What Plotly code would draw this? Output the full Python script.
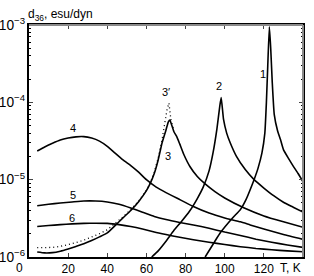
import math
import plotly.graph_objects as go

# ---- data ----
T1 = [90, 95, 98, 104, 108, 111, 113, 115, 117, 119, 120.5, 121.3, 122.0, 122.8,
      123.5, 124.3, 125.3, 127, 128.5, 130, 132.5, 135, 137.5, 140]
d1 = [1.0e-6, 1.6e-6, 2.1e-6, 3.2e-6, 4.1e-6, 5.6e-6, 7.4e-6, 1.0e-5, 1.4e-5, 2.2e-5, 4.0e-5, 1.0e-4, 3.0e-4, 9.5e-4,
      5.0e-4, 1.8e-4, 7.0e-5, 4.3e-5, 3.3e-5, 2.45e-5, 1.9e-5, 1.5e-5, 1.2e-5, 9.4e-6]

T2 = [62.7, 66, 70, 74, 78, 82, 86, 89, 92, 94, 96, 97.5, 98.2,
      99.4, 101, 102.8, 106, 110.5, 115, 120, 125, 130, 135, 140]
d2 = [1.0e-6, 1.2e-6, 1.6e-6, 2.2e-6, 2.9e-6, 3.9e-6, 5.7e-6, 8.0e-6, 1.3e-5, 2.2e-5, 4.5e-5, 9.0e-5, 1.15e-4,
      6.0e-5, 4.0e-5, 3.0e-5, 2.0e-5, 1.35e-5, 1.0e-5, 7.8e-6, 6.2e-6, 5.1e-6, 4.4e-6, 3.8e-6]

T3 = [4.2, 8, 12, 16, 20, 24, 28, 32, 36, 40, 44, 48, 52, 56, 60, 62, 64, 66, 68, 70, 71.2, 72,
      73, 74, 75.5, 77, 79, 82.3, 86, 90, 95, 100, 110, 120, 130, 140]
d3 = [1.16e-6, 1.13e-6, 1.14e-6, 1.19e-6, 1.27e-6, 1.37e-6, 1.48e-6, 1.63e-6, 1.82e-6, 2.05e-6, 2.55e-6,
      3.2e-6, 4.0e-6, 5.2e-6, 7.2e-6, 9.0e-6, 1.2e-5, 1.8e-5, 3.0e-5, 4.4e-5, 5.6e-5, 5.9e-5,
      5.0e-5, 4.2e-5, 3.6e-5, 2.9e-5, 2.15e-5, 1.47e-5, 1.1e-5, 8.8e-6, 7.0e-6, 5.8e-6, 4.3e-6, 3.4e-6, 2.85e-6, 2.42e-6]

T3p = [4.2, 8, 12, 16, 20, 24, 28, 32, 36, 40, 44, 48, 52, 56, 60, 62, 64, 66, 68, 69.5, 70.5, 71.5, 72.5, 74]
d3p = [1.32e-6, 1.32e-6, 1.33e-6, 1.37e-6, 1.44e-6, 1.53e-6, 1.65e-6, 1.8e-6, 2.0e-6, 2.25e-6, 2.7e-6,
       3.3e-6, 4.1e-6, 5.3e-6, 7.3e-6, 9.1e-6, 1.25e-5, 1.9e-5, 3.3e-5, 5.5e-5, 8.0e-5, 9.8e-5, 6.0e-5, 4.3e-5]

T4 = [4.2, 8, 12, 16, 20, 24, 28, 32, 36, 40, 44, 48, 52, 56, 60, 65, 70, 76, 84, 92, 100, 108, 113, 120, 130, 140]
d4 = [2.35e-5, 2.65e-5, 2.95e-5, 3.25e-5, 3.45e-5, 3.58e-5, 3.6e-5, 3.45e-5, 3.15e-5, 2.7e-5, 2.2e-5, 1.8e-5,
      1.52e-5, 1.25e-5, 1.0e-5, 8.0e-6, 6.8e-6, 5.7e-6, 4.5e-6, 3.7e-6, 3.2e-6, 2.85e-6, 2.6e-6, 2.3e-6, 1.95e-6, 1.69e-6]

T5 = [4.2, 10, 16, 22, 28, 34, 40, 46, 52, 58, 64, 70, 77, 84, 92, 100, 108, 116, 124, 132, 140]
d5 = [4.6e-6, 4.8e-6, 5.0e-6, 5.15e-6, 5.3e-6, 5.3e-6, 5.15e-6, 4.8e-6, 4.3e-6, 3.8e-6, 3.35e-6, 3.05e-6,
      2.8e-6, 2.6e-6, 2.35e-6, 2.1e-6, 1.9e-6, 1.7e-6, 1.55e-6, 1.43e-6, 1.33e-6]

T6 = [4.2, 10, 16, 22, 28, 34, 40, 46, 52, 58, 64, 70, 77, 84, 92, 100, 108, 116, 124, 132, 140]
d6 = [2.48e-6, 2.55e-6, 2.62e-6, 2.68e-6, 2.72e-6, 2.73e-6, 2.72e-6, 2.62e-6, 2.48e-6, 2.3e-6, 2.1e-6, 1.95e-6,
      1.8e-6, 1.67e-6, 1.55e-6, 1.45e-6, 1.36e-6, 1.29e-6, 1.24e-6, 1.2e-6, 1.17e-6]

x_ticks = [20, 40, 60, 80, 100, 120]
x_ticklabels = ["20", "40", "60", "80", "100", "120"]

curve_labels = ["1", "2", "3′", "3", "4", "5", "6"]
label_T = [119.5, 97.0, 70.0, 71.0, 22.5, 22.5, 22.0]
label_d = [2.3e-4, 1.65e-4, 1.35e-4, 2.0e-5, 4.7e-5, 6.4e-6, 3.2e-6]

FONT = "Liberation Sans, Arial, sans-serif"

fig = go.Figure()
for T, d in [(T1, d1), (T2, d2), (T3, d3), (T4, d4), (T5, d5), (T6, d6)]:
    fig.add_trace(go.Scatter(x=T, y=d, mode="lines",
                             line=dict(color="black", width=1.6, shape="spline", smoothing=0.4),
                             showlegend=False, hoverinfo="skip"))
fig.add_trace(go.Scatter(x=T3p, y=d3p, mode="lines",
                         line=dict(color="black", width=1.3, dash="1px,3px"),
                         showlegend=False, hoverinfo="skip"))

for t, x, y in zip(curve_labels, label_T, label_d):
    fig.add_annotation(x=x, y=math.log10(y), xref="x", yref="y", text=t, showarrow=False,
                       font=dict(size=11, color="black", family=FONT))

fig.add_annotation(xref="x domain", yref="y domain", x=-0.033, y=-0.048, xanchor="center",
                   yanchor="middle", text="0", showarrow=False,
                   font=dict(size=12, color="black", family=FONT))
fig.add_annotation(xref="paper", yref="paper", x=1.0, y=-0.048, xanchor="right", yanchor="middle",
                   text="T, K", showarrow=False, font=dict(size=12, color="black", family=FONT))
fig.add_annotation(xref="paper", yref="paper", x=-0.012, y=1.0, xanchor="left", yanchor="bottom",
                   text="d<sub>36</sub>, esu/dyn", showarrow=False,
                   font=dict(size=12, color="black", family=FONT))

# gray top/right frame lines
fig.add_shape(type="line", xref="paper", yref="paper", x0=0, x1=1, y0=1, y1=1,
              line=dict(color="#8a8a8a", width=2))
fig.add_shape(type="line", xref="paper", yref="paper", x0=1, x1=1, y0=0, y1=1,
              line=dict(color="#8a8a8a", width=2))

fig.update_layout(
    width=314, height=276,
    margin=dict(l=29, r=11, t=25, b=19),
    paper_bgcolor="white", plot_bgcolor="white",
    font=dict(family=FONT, size=12, color="black"),
    xaxis=dict(range=[0, 140], tickvals=x_ticks, ticktext=x_ticklabels, ticks="inside", ticklen=4,
               mirror="ticks", automargin=False,
               showline=True, linecolor="black", linewidth=1.5, showgrid=False, zeroline=False,
               tickfont=dict(size=12, color="black")),
    yaxis=dict(type="log", range=[-6, -3], dtick=1, exponentformat="power", ticks="inside", ticklen=4,
               mirror="ticks", automargin=False,
               showline=True, linecolor="black", linewidth=1.5, showgrid=False, zeroline=False,
               tickfont=dict(size=11, color="black"),
               minor=dict(ticks="inside", ticklen=2, tickcolor="black", showgrid=False)),
)

fig.write_html("out.html", config={"displayModeBar": False},
               post_script="document.body.style.margin='0';document.body.style.overflow='hidden';")
